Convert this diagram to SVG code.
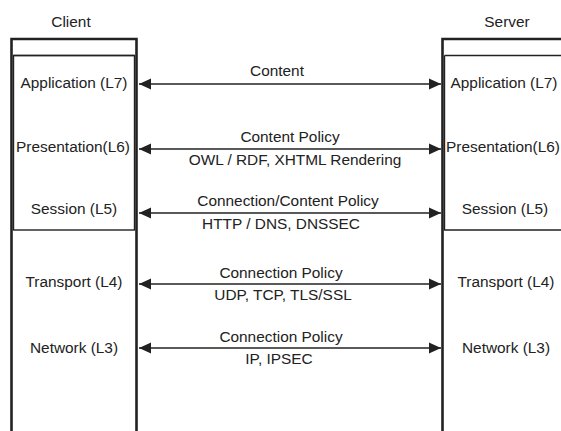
<svg xmlns="http://www.w3.org/2000/svg" width="561" height="431" viewBox="0 0 561 431">
<style>
text{font-family:"Liberation Sans",Arial,sans-serif;font-size:15.4px;fill:#222;text-anchor:middle}
.thick{fill:none;stroke:#222;stroke-width:2.6}
.thin{fill:none;stroke:#222;stroke-width:1.4}
.conn{stroke:#222;stroke-width:1.5;fill:none;marker-start:url(#ah);marker-end:url(#ah)}
</style>
<defs>
<marker id="ah" markerUnits="userSpaceOnUse" viewBox="0 0 12 12" refX="12" refY="6" markerWidth="12" markerHeight="12" orient="auto-start-reverse">
<path d="M0,0.5 L12,6 L0,11.5 Z" fill="#222"/>
</marker>
</defs>
<rect width="561" height="431" fill="#fff"/>
<g id="client">
<text x="71" y="27">Client</text>
<path class="thick" d="M11.5,431 V39 H136.5 V431"/>
<path class="thin" d="M13.5,55.5 H134.5"/>
<rect class="thin" x="13.5" y="55.5" width="121" height="174.5"/>
</g>
<g id="client-layers">
<text x="74" y="88">Application (L7)</text>
<text x="73" y="152">Presentation(L6)</text>
<text x="74" y="214">Session (L5)</text>
<text x="74" y="287">Transport (L4)</text>
<text x="74" y="353">Network (L3)</text>
</g>
<g id="server">
<text x="507" y="27">Server</text>
<path class="thick" d="M442.5,431 V39 H561"/>
<path class="thin" d="M444.5,55.5 H561"/>
<path class="thin" d="M444.5,55.5 V230 H561"/>
</g>
<g id="server-layers">
<text x="504" y="88">Application (L7)</text>
<text x="503" y="152">Presentation(L6)</text>
<text x="505" y="214">Session (L5)</text>
<text x="506" y="287">Transport (L4)</text>
<text x="506" y="353">Network (L3)</text>
</g>
<g id="connectors">
<line class="conn" x1="139" y1="84" x2="441" y2="84"/>
<text x="277" y="76">Content</text>
<line class="conn" x1="139" y1="149" x2="441" y2="149"/>
<text x="290" y="142">Content Policy</text>
<text x="295" y="165">OWL / RDF, XHTML Rendering</text>
<line class="conn" x1="139" y1="213" x2="441" y2="213"/>
<text x="288" y="206">Connection/Content Policy</text>
<text x="281" y="229">HTTP / DNS, DNSSEC</text>
<line class="conn" x1="139" y1="284" x2="441" y2="284"/>
<text x="281" y="278">Connection Policy</text>
<text x="283" y="300">UDP, TCP, TLS/SSL</text>
<line class="conn" x1="139" y1="348" x2="441" y2="348"/>
<text x="281" y="342">Connection Policy</text>
<text x="279" y="364">IP, IPSEC</text>
</g>
</svg>
